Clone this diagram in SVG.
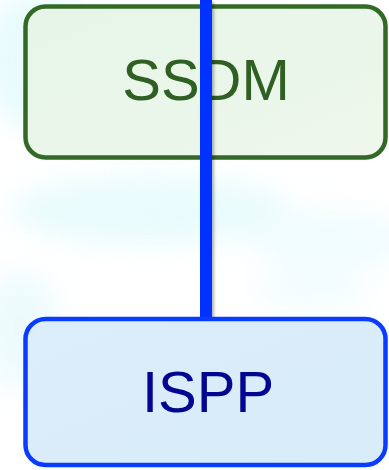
<svg xmlns="http://www.w3.org/2000/svg" width="389" height="470" viewBox="0 0 389 470">
<style>
.box{stroke-width:4.5}
.lbl{font-family:"Liberation Sans",Arial,sans-serif;font-size:58px;text-anchor:middle}
</style>
<defs>
<filter id="blur" x="-50%" y="-50%" width="200%" height="200%"><feGaussianBlur stdDeviation="14"/></filter>
<filter id="sh" filterUnits="userSpaceOnUse" x="180" y="-10" width="60" height="350"><feDropShadow dx="2" dy="2" stdDeviation="1.5" flood-color="#000" flood-opacity="0.3"/></filter>
<linearGradient id="gg" x1="0" y1="0" x2="1" y2="1"><stop offset="0" stop-color="#e6f5e8"/><stop offset="1" stop-color="#eef7ec"/></linearGradient>
<linearGradient id="bg" x1="0" y1="0" x2="1" y2="1"><stop offset="0" stop-color="#dcedfb"/><stop offset="1" stop-color="#d8ecfa"/></linearGradient>
</defs>
<rect width="389" height="470" fill="#ffffff"/>
<g filter="url(#blur)" opacity="0.7">
<ellipse cx="40" cy="60" rx="60" ry="70" fill="#dff9fc"/>
<ellipse cx="150" cy="210" rx="140" ry="35" fill="#e0fafc"/>
<ellipse cx="330" cy="240" rx="80" ry="30" fill="#eafbfc"/>
<ellipse cx="20" cy="330" rx="40" ry="60" fill="#e6f9fc"/>
<ellipse cx="310" cy="290" rx="60" ry="20" fill="#eefcfd"/>
</g>
<g id="ssdm">
<rect class="box" x="25.5" y="6.5" width="360" height="151" rx="20" fill="url(#gg)" stroke="#336926"/>
<text class="lbl" x="206" y="100" fill="#2f5f22">SSDM</text>
</g>
<g id="connectors">
<line x1="206" y1="0" x2="206" y2="319" stroke="#0433ff" stroke-width="12" filter="url(#sh)"/>
</g>
<g id="ispp">
<rect class="box" x="25.5" y="319" width="360" height="146" rx="20" fill="url(#bg)" stroke="#0a3cff"/>
<text class="lbl" x="208" y="411.5" fill="#020690">ISPP</text>
</g>
</svg>
